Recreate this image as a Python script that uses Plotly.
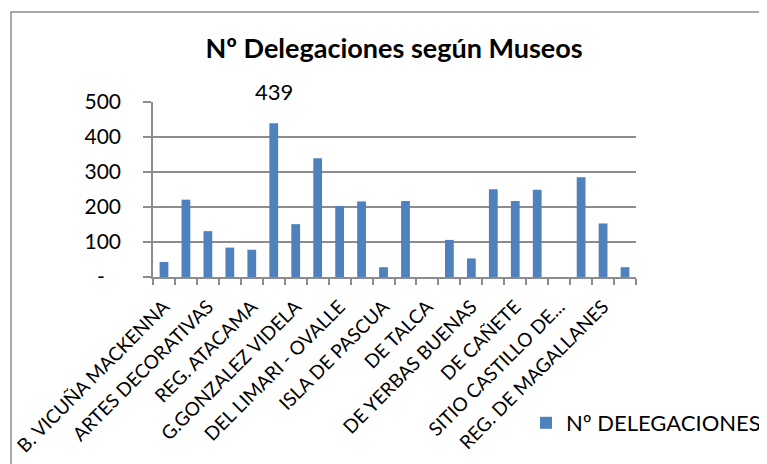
import plotly.graph_objects as go

categories = [
    "B. VICUÑA MACKENNA", "DE LA EDUCACION", "ARTES DECORATIVAS", "DEL CARMEN DE MAIPU",
    "REG. ATACAMA", "ARQUEOLOGICO LA SERENA", "G.GONZALEZ VIDELA", "GABRIELA MISTRAL",
    "DEL LIMARI - OVALLE", "HIST. NAT. VALPARAISO", "ISLA DE PASCUA", "REG. DE RANCAGUA",
    "DE TALCA", "DE LINARES", "DE YERBAS BUENAS", "HIST. NAT. CONCEPCION",
    "DE CAÑETE", "REG. ARAUCANIA", "SITIO CASTILLO DE...", "REG. DE ANCUD",
    "REG. DE MAGALLANES", "MARTIN GUSINDE",
]
values = [43, 221, 131, 84, 78, 439, 151, 339, 203, 216, 28, 217,
          0, 106, 53, 251, 217, 249, 0, 285, 153, 28]
series_name = "Nº DELEGACIONES"
title_text = "Nº Delegaciones según Museos"
y_tick_vals = [0, 100, 200, 300, 400, 500]
y_tick_text = ["-\u00a0\u00a0\u00a0", "100", "200", "300", "400", "500"]
labelled_value = 439

FONT = "Lato"
GRID = "#8c8c8c"

# page offset (body margin) compensation
OFF = 8
PL, PR, PT, PB = 153 - OFF, 636 - OFF, 102 - OFF, 277 - OFF
W, H = 767, 464
pw, ph = PR - PL, PB - PT

n = len(categories)
xpos = list(range(1, n + 1))
shown = [i for i in xpos if i % 2 == 1]

fig = go.Figure()
fig.add_trace(go.Bar(
    x=xpos, y=values, name=series_name, width=0.4,
    marker=dict(color="#4f81bd", line=dict(width=0)),
    xaxis="x", yaxis="y", showlegend=True,
))
fig.add_trace(go.Scatter(
    x=xpos, y=values, xaxis="x2", yaxis="y", mode="markers",
    marker=dict(opacity=0), showlegend=False, hoverinfo="skip",
))

peak_idx = values.index(labelled_value)
fig.add_annotation(
    x=xpos[peak_idx], y=labelled_value, xref="x", yref="y",
    text=str(labelled_value), showarrow=False, yanchor="bottom", yshift=16,
    font=dict(family=FONT, size=22, color="black"),
)

fig.update_layout(
    width=W, height=H,
    margin=dict(l=PL, r=W - PR, t=PT, b=H - PB, autoexpand=False),
    paper_bgcolor="white", plot_bgcolor="white",
    font=dict(family=FONT, color="black"),
    title=dict(text=f"<b>{title_text}</b>", x=(394 - OFF) / W, xanchor="center",
               y=1 - (49 - OFF) / H, yanchor="middle",
               font=dict(family=FONT, size=27, color="black")),
    bargap=0.6,
    xaxis=dict(range=[0.5, n + 0.5], tickmode="array",
               tickvals=[i + 0.5 for i in range(0, n + 1)],
               showticklabels=False, ticks="outside", ticklen=6, tickcolor=GRID,
               tickwidth=1.5, showline=True, linecolor=GRID, linewidth=1.5,
               showgrid=False, zeroline=False),
    xaxis2=dict(overlaying="x", matches="x", anchor="y", side="bottom",
                tickmode="array", tickvals=shown,
                ticktext=[categories[i - 1] for i in shown],
                tickangle=-45, ticks="", showline=False, showgrid=False,
                zeroline=False, ticklabelstandoff=14,
                tickfont=dict(family=FONT, size=19, color="black")),
    yaxis=dict(range=[0, 500], tickmode="array", tickvals=y_tick_vals,
               ticktext=y_tick_text, ticks="outside", ticklen=8, tickcolor=GRID,
               tickwidth=1.5, ticklabelstandoff=18,
               showline=True, linecolor=GRID, linewidth=1.5,
               showgrid=True, gridcolor=GRID, gridwidth=1.5, zeroline=False,
               tickfont=dict(family=FONT, size=21, color="black")),
    legend=dict(x=(526 - OFF - PL) / pw, xanchor="left", y=(PB - (423 - OFF)) / ph,
                yanchor="middle", font=dict(family=FONT, size=22, color="black"),
                bgcolor="rgba(0,0,0,0)", itemsizing="constant"),
    shapes=[dict(type="rect", xref="paper", yref="paper",
                 x0=(11 - OFF - PL) / pw, x1=2.0, y0=-3.0,
                 y1=1 + (PT - (12 - OFF)) / ph,
                 line=dict(color=GRID, width=1.5), fillcolor="rgba(0,0,0,0)",
                 layer="below")],
)

fig.write_html("out.html")
